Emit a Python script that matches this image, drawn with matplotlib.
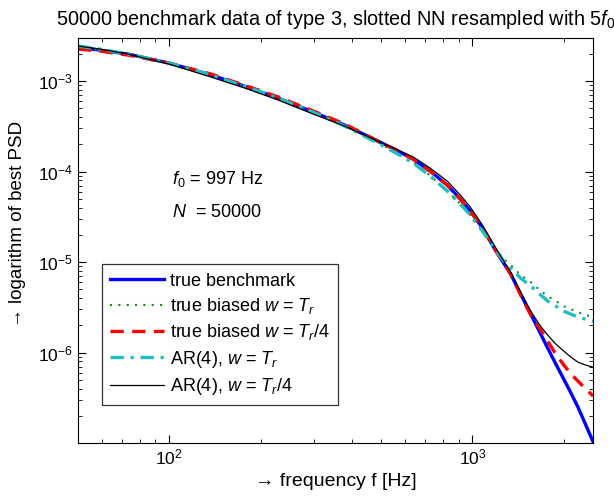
import matplotlib
matplotlib.use("Agg")
import matplotlib.pyplot as plt
from matplotlib.ticker import LogLocator, NullFormatter

plt.rcParams['font.family'] = ['Liberation Sans', 'DejaVu Sans']
plt.rcParams['mathtext.fontset'] = 'custom'
plt.rcParams['mathtext.rm'] = 'Liberation Sans'
plt.rcParams['mathtext.it'] = 'Liberation Sans:italic'

# frequency grid (Hz)
freq = [50, 59, 73, 100, 137, 177, 228, 293, 379, 495, 560, 638, 726, 826, 912,
        984, 1079, 1174, 1267, 1337, 1442, 1557, 1667, 1771, 1884, 2000, 2113,
        2228, 2366, 2500]

# PSD estimates
true_bench = [2.38e-3, 2.20e-3, 1.99e-3, 1.58e-3, 1.17e-3, 8.8e-4, 6.5e-4, 4.66e-4,
              3.27e-4, 2.12e-4, 1.73e-4, 1.37e-4, 1.01e-4, 7.09e-5, 4.97e-5, 3.66e-5,
              2.38e-5, 1.46e-5, 9.75e-6, 7.37e-6, 4.43e-6, 2.66e-6, 1.68e-6, 1.12e-6,
              7.46e-7, 5.10e-7, 3.57e-7, 2.50e-7, 1.58e-7, 1.03e-7]
biased_tr = [2.38e-3, 2.20e-3, 1.99e-3, 1.58e-3, 1.17e-3, 8.8e-4, 6.5e-4, 4.66e-4,
             3.2e-4, 2.05e-4, 1.62e-4, 1.26e-4, 9.0e-5, 6.1e-5, 4.4e-5, 3.3e-5,
             2.2e-5, 1.48e-5, 1.08e-5, 9.27e-6, 7.18e-6, 6.01e-6, 4.90e-6, 4.21e-6,
             3.71e-6, 3.26e-6, 3.02e-6, 2.80e-6, 2.60e-6, 2.47e-6]
biased_tr4 = [2.26e-3, 2.15e-3, 1.94e-3, 1.58e-3, 1.2e-3, 9.0e-4, 6.7e-4, 4.8e-4,
              3.35e-4, 2.12e-4, 1.73e-4, 1.37e-4, 1.01e-4, 7.09e-5, 4.97e-5, 3.66e-5,
              2.38e-5, 1.46e-5, 9.75e-6, 7.37e-6, 4.32e-6, 2.60e-6, 1.85e-6, 1.33e-6,
              9.6e-7, 7.3e-7, 5.79e-7, 4.84e-7, 3.95e-7, 3.31e-7]
ar4_tr = [2.44e-3, 2.26e-3, 1.99e-3, 1.58e-3, 1.17e-3, 8.8e-4, 6.5e-4, 4.66e-4,
          3.18e-4, 2.01e-4, 1.60e-4, 1.24e-4, 8.92e-5, 6.09e-5, 4.37e-5, 3.31e-5,
          2.20e-5, 1.46e-5, 1.03e-5, 8.59e-6, 6.65e-6, 5.43e-6, 4.43e-6, 3.71e-6,
          3.26e-6, 2.87e-6, 2.66e-6, 2.47e-6, 2.34e-6, 2.23e-6]
ar4_tr4 = [2.44e-3, 2.26e-3, 1.99e-3, 1.54e-3, 1.11e-3, 8.4e-4, 6.2e-4, 4.43e-4,
           3.18e-4, 2.12e-4, 1.77e-4, 1.45e-4, 1.09e-4, 7.85e-5, 5.50e-5, 4.05e-5,
           2.56e-5, 1.58e-5, 1.03e-5, 7.76e-6, 4.66e-6, 2.87e-6, 2.01e-6, 1.56e-6,
           1.24e-6, 1.04e-6, 8.9e-7, 7.85e-7, 7.27e-7, 6.91e-7]

fig = plt.figure(figsize=(6.14, 4.99), dpi=100)
ax = fig.add_axes([0.127, 0.112, 0.839, 0.812])

ax.loglog(freq, true_bench, color='#0000ff', lw=2.4, label='true benchmark')
ax.loglog(freq, biased_tr, color='#1a8c1a', lw=1.5, ls=(0, (1, 3)),
          label=r'true biased $w$ = $T_r$')
ax.loglog(freq, biased_tr4, color='#ff0000', lw=2.4, ls=(0, (4, 2.5)),
          label=r'true biased $w$ = $T_r$/4')
ax.loglog(freq, ar4_tr, color='#1ebfbf', lw=2.4, ls=(0, (4, 2, 1, 2)),
          label=r'AR(4), $w$ = $T_r$')
ax.loglog(freq, ar4_tr4, color='black', lw=0.9, label=r'AR(4), $w$ = $T_r$/4')

ax.set_xlim(50, 2500)
ax.set_ylim(1e-7, 3e-3)

ax.tick_params(which='both', direction='in', top=True, right=True, labelsize=12.5)
ax.tick_params(which='major', length=6)
ax.tick_params(which='minor', length=3)
ax.yaxis.set_major_locator(LogLocator(base=10, numticks=20))
ax.yaxis.set_minor_locator(LogLocator(base=10, subs=range(2, 10), numticks=20))
ax.yaxis.set_minor_formatter(NullFormatter())
ax.set_yticks([1e-6, 1e-5, 1e-4, 1e-3])

ax.set_xlabel('→ frequency f [Hz]', fontsize=14)
ax.set_ylabel('→ logarithm of best PSD', fontsize=13.5)
ax.yaxis.set_label_coords(-0.10, 0.54)
ax.set_title(r'50000 benchmark data of type 3, slotted NN resampled with 5$f_0$',
             fontsize=14.3, pad=9)

ax.text(0.183, 0.64, r'$f_0$ = 997 Hz', transform=ax.transAxes, fontsize=13)
ax.text(0.183, 0.557, r'$N$  = 50000', transform=ax.transAxes, fontsize=13)

leg = ax.legend(loc='lower left', bbox_to_anchor=(0.047, 0.094), fontsize=13,
                frameon=True, fancybox=False, edgecolor='black',
                handlelength=3.0, handletextpad=0.3, borderpad=0.45,
                labelspacing=0.35, borderaxespad=0)
leg.get_frame().set_linewidth(0.9)

fig.savefig('out.png', dpi=100)
